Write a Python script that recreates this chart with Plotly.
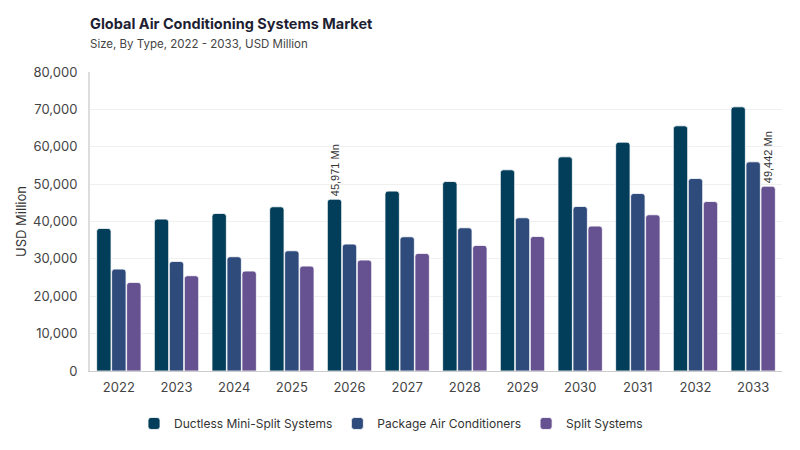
import plotly.graph_objects as go

# Market size by type, USD Million
years = ["2022", "2023", "2024", "2025", "2026", "2027", "2028", "2029", "2030", "2031", "2032", "2033"]
ductless = [38150, 40640, 42160, 43940, 45971, 48130, 50710, 53830, 57300, 61230, 65600, 70680]
package = [27270, 29320, 30570, 32170, 33960, 35920, 38320, 41000, 44030, 47500, 51510, 55970]
split = [23700, 25490, 26740, 28070, 29680, 31460, 33600, 36000, 38770, 41800, 45360, 49442]

series_names = ["Ductless Mini-Split Systems", "Package Air Conditioners", "Split Systems"]
colors = ["#023e5a", "#2f4b7c", "#665191"]

# only two bars carry a value label
ductless_text = ["" for _ in years]
ductless_text[years.index("2026")] = f"{ductless[years.index('2026')]:,} Mn"
split_text = ["" for _ in years]
split_text[years.index("2033")] = f"{split[years.index('2033')]:,} Mn"
texts = [ductless_text, [""] * len(years), split_text]

fig = go.Figure()
for name, vals, col, txt in zip(series_names, [ductless, package, split], colors, texts):
    fig.add_trace(go.Bar(
        x=years, y=vals, name=name,
        marker=dict(color=col, cornerradius=3, line=dict(color="white", width=0.8)),
        text=txt, textposition="outside", textangle=-90,
        textfont=dict(size=11, color="#333333", family="Liberation Sans"),
        cliponaxis=False,
    ))

# the page body adds an 8px offset, so the figure is drawn 8px smaller
W, H = 792, 442
fig.update_layout(
    width=W, height=H,
    barmode="group", bargap=0.22, bargroupgap=0.04,
    plot_bgcolor="white", paper_bgcolor="white",
    font=dict(family="Inter", color="#444444", size=12),
    margin=dict(l=82, r=18, t=64, b=79, autoexpand=False),
    title=dict(
        text="<b>Global Air Conditioning Systems Market</b><br>"
             "<span style='font-size:11.5px;color:#444444'>Size, By Type, 2022 - 2033, USD Million</span>",
        x=82 / W, xanchor="left", y=1 - 21 / H, yanchor="top",
        font=dict(size=14.5, color="#1f1f33"),
    ),
    legend=dict(
        orientation="h", x=0.435, xanchor="center",
        y=-0.127, yanchor="top",
        font=dict(size=12, color="#333333"), itemwidth=30,
    ),
    uniformtext=dict(minsize=8, mode="show"),
)

fig.update_yaxes(
    range=[0, 80000], dtick=10000, tickformat=",",
    showgrid=True, gridcolor="#f0f0f0",
    showline=True, linecolor="#dddddd", linewidth=2,
    zeroline=False, ticks="outside", ticklen=8, tickcolor="white",
    tickfont=dict(size=13, color="#444444"),
    title=dict(text="USD Million", font=dict(size=13, color="#333333"), standoff=4),
    automargin=False,
)
fig.update_xaxes(
    showline=True, linecolor="#cccccc", linewidth=1,
    ticks="outside", ticklen=4, tickcolor="white",
    tickfont=dict(size=13, color="#444444"),
    automargin=False,
)

fig.write_html("out.html")
